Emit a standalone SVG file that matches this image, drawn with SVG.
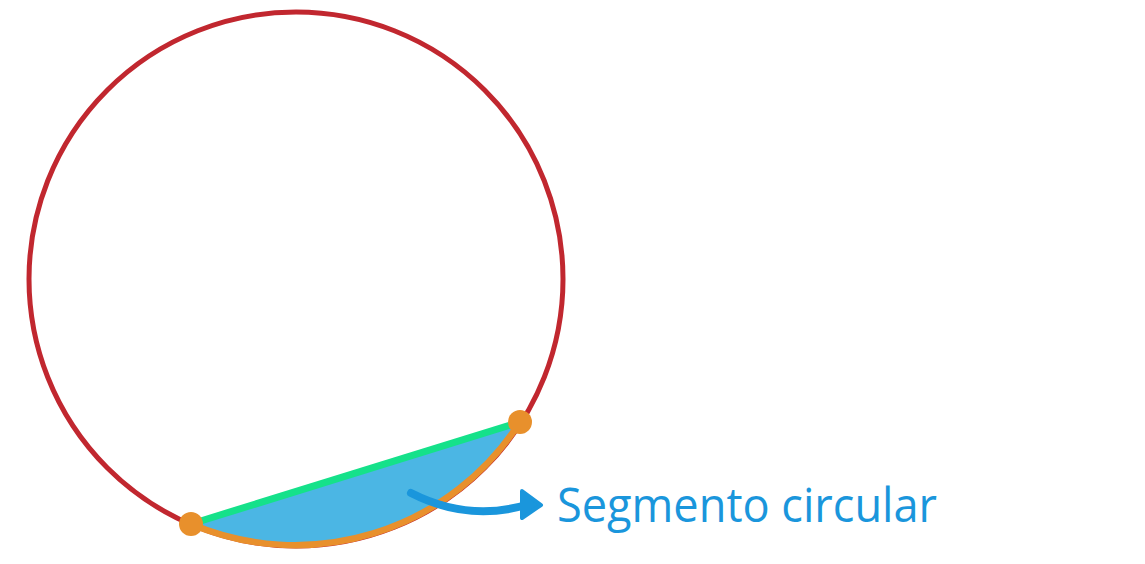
<svg xmlns="http://www.w3.org/2000/svg" width="1145" height="564" viewBox="0 0 1145 564">
<style>
.lbl{font-family:"Open Sans","Noto Sans","Liberation Sans",sans-serif;font-size:48px;fill:#1a96dc}
</style>
<rect width="1145" height="564" fill="#fff"/>
<g id="circle">
<circle cx="296" cy="279" r="267" fill="none" stroke="#c1272f" stroke-width="5"/>
</g>
<g id="segment">
<path d="M191,524 A267,267 0 0 0 520,422 Z" fill="#4bb6e4"/>
<path d="M191,524 A267,267 0 0 0 520,422" fill="none" stroke="#e8902c" stroke-width="6.5"/>
<line x1="191" y1="524" x2="520" y2="422" stroke="#15e18a" stroke-width="7"/>
<circle cx="191" cy="524" r="12" fill="#e8902c"/>
<circle cx="520" cy="422" r="12" fill="#e8902c"/>
</g>
<g id="connectors">
<path d="M411,493 Q468,522 526,505" fill="none" stroke="#1a96dc" stroke-width="8" stroke-linecap="round"/>
<path d="M522,491 L541,505 L522,518 Z" fill="#1a96dc" stroke="#1a96dc" stroke-width="4" stroke-linejoin="round"/>
</g>
<g id="label">
<text class="lbl" x="557" y="522" textLength="380" lengthAdjust="spacingAndGlyphs">Segmento circular</text>
</g>
</svg>
